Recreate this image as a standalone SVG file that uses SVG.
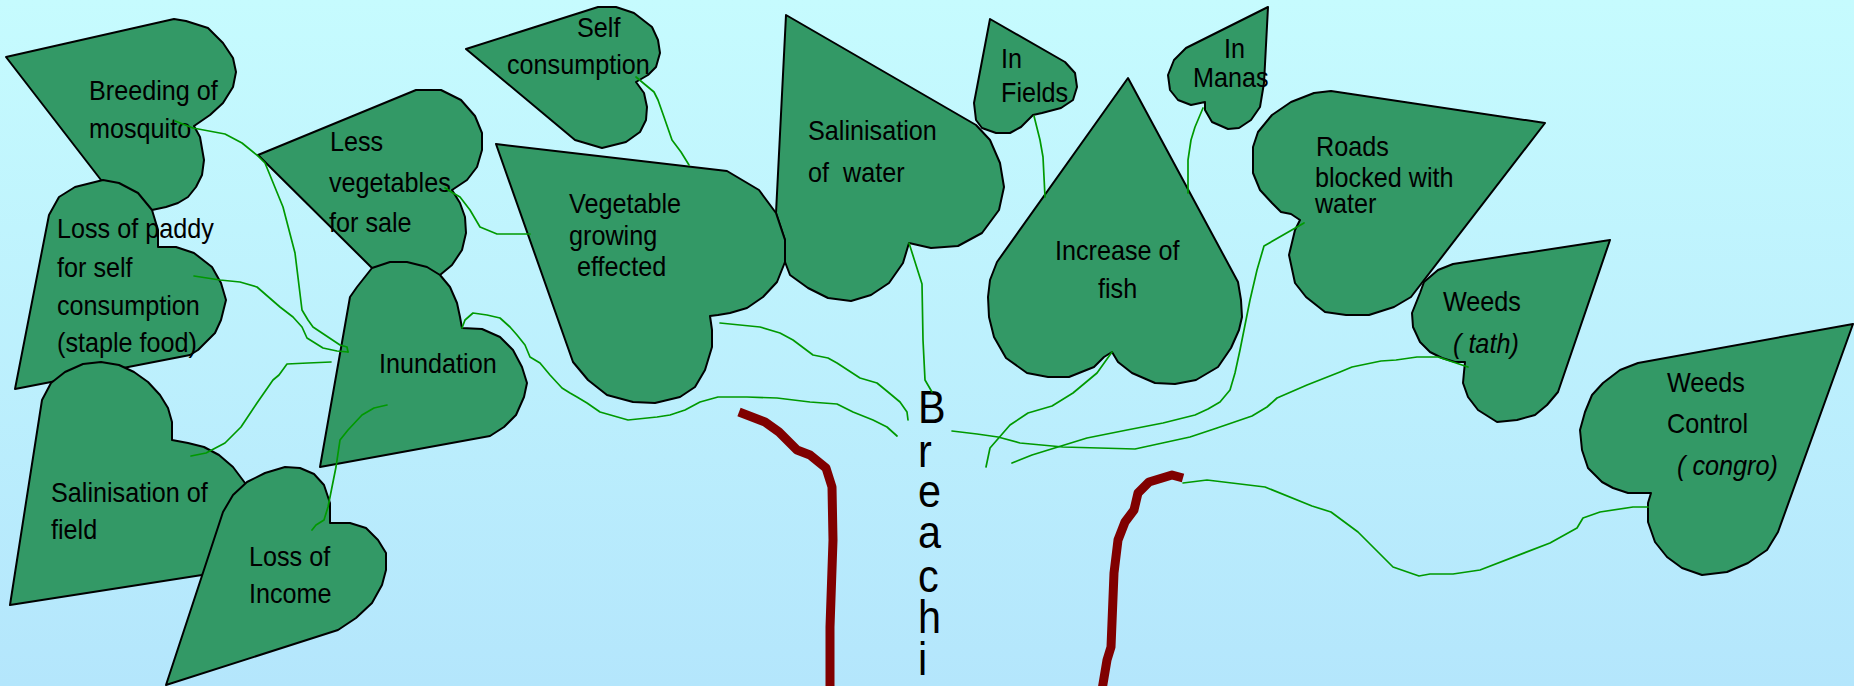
<svg xmlns="http://www.w3.org/2000/svg" width="1854" height="686" viewBox="0 0 1854 686">
<defs>
<linearGradient id="bg" x1="0" y1="0" x2="0" y2="1">
<stop offset="0" stop-color="#c6fbfe"/>
<stop offset="1" stop-color="#b4e6fc"/>
</linearGradient>
<style>
.leaf{fill:#339966;stroke:#000;stroke-width:2;stroke-linejoin:round}
.t{font-family:"Liberation Sans",Arial,sans-serif;font-size:28px;fill:#000;transform-box:fill-box;transform-origin:0 0;transform:scaleX(0.9)}
.it{font-style:italic}
.br{font-family:"Liberation Sans",Arial,sans-serif;font-size:47px;fill:#000;transform-box:fill-box;transform-origin:0 0;transform:scaleX(0.88)}
.c{fill:none;stroke:#009900;stroke-width:1.7;stroke-linejoin:round;stroke-linecap:round}
.bank{fill:none;stroke:#800000;stroke-width:9;stroke-linejoin:round}
</style>
</defs>
<rect x="0" y="0" width="1854" height="686" fill="url(#bg)"/>

<g id="breeding">
<polygon class="leaf" points="6,57 174,19 186,21 208,28 223,43 233,58 236,72 233,87 223,103 210,115 194,126 200,137 204,160 202,175 196,187 188,197 178,203 166,207 152,210 101,180"/>
<text class="t" x="89" y="100">Breeding of</text>
<text class="t" x="89" y="138">mosquito</text>
</g>
<g id="loss-paddy">
<polygon class="leaf" points="15,389 49,215 59,197 75,187 103,180 119,183 138,193 152,210 158,230 158,247 176,247 194,253 212,267 221,283 226,300 221,320 215,333 206,342 198,350 190,355"/>
<text class="t" x="57" y="238">Loss of paddy</text>
<text class="t" x="57" y="277">for self</text>
<text class="t" x="57" y="315">consumption</text>
<text class="t" x="57" y="352">(staple food)</text>
</g>
<g id="sal-field">
<polygon class="leaf" points="10,605 42,400 51,383 65,372 83,364 101,362 119,365 134,372 148,382 160,395 168,408 172,422 172,440 188,443 204,447 219,455 233,467 245,483 240,530 202,575"/>
<text class="t" x="51" y="502">Salinisation of</text>
<text class="t" x="51" y="539">field</text>
</g>
<g id="loss-income">
<polygon class="leaf" points="166,685 223,512 233,495 247,482 265,473 285,467 300,468 314,474 324,485 330,503 330,523 350,523 366,528 378,540 386,553 386,570 382,585 372,603 356,618 338,630"/>
<text class="t" x="249" y="566">Loss of</text>
<text class="t" x="249" y="603">Income</text>
</g>
<g id="less-veg">
<polygon class="leaf" points="258,155 416,90 441,90 461,100 475,116 482,133 482,150 477,167 467,180 452,190 460,203 465,217 466,233 462,250 452,265 440,275 410,285 372,268"/>
<text class="t" x="330" y="151">Less</text>
<text class="t" x="329" y="192">vegetables</text>
<text class="t" x="329" y="232">for sale</text>
</g>
<g id="inundation">
<polygon class="leaf" points="320,467 350,297 357,287 372,268 390,262 407,262 427,267 440,275 450,287 457,303 460,317 462,328 482,329 500,337 513,350 522,367 527,383 524,397 516,415 504,427 490,436"/>
<text class="t" x="379" y="373">Inundation</text>
</g>
<g id="self-cons">
<polygon class="leaf" points="466,49 598,7 616,7 634,13 652,27 658,40 660,53 656,67 648,75 636,82 644,93 647,107 646,120 640,132 626,142 602,148 575,140"/>
<text class="t" x="577" y="37">Self</text>
<text class="t" x="507" y="74">consumption</text>
</g>
<g id="sal-water">
<polygon class="leaf" points="786,15 976,125 990,140 1000,163 1004,187 999,210 982,233 958,246 931,248 909,243 903,263 889,283 871,295 851,301 828,298 808,288 790,275 785,262 785,240 776,213"/>
<text class="t" x="808" y="140">Salinisation</text>
<text class="t" x="808" y="182" xml:space="preserve" style="white-space:pre">of  water</text>
</g>
<g id="vegetable">
<polygon class="leaf" points="496,144 727,171 759,190 776,213 785,240 785,262 777,282 763,297 747,308 730,313 718,315 710,316 712,330 712,347 705,370 695,387 680,397 655,403 633,402 607,395 588,380 573,362"/>
<text class="t" x="569" y="213">Vegetable</text>
<text class="t" x="569" y="245">growing</text>
<text class="t" x="577" y="276">effected</text>
</g>
<g id="in-fields">
<polygon class="leaf" points="990,19 1065,62 1075,73 1077,87 1073,100 1061,108 1042,113 1033,115 1021,127 1010,133 996,133 982,128 976,120 974,103"/>
<text class="t" x="1001" y="68">In</text>
<text class="t" x="1001" y="102">Fields</text>
</g>
<g id="in-manas">
<polygon class="leaf" points="1268,7 1186,48 1174,60 1168,75 1170,90 1178,100 1191,105 1205,102 1205,110 1212,122 1228,129 1239,128 1251,120 1260,107 1264,83"/>
<text class="t" x="1224" y="58">In</text>
<text class="t" x="1193" y="87">Manas</text>
</g>
<g id="fish">
<polygon class="leaf" points="1128,78 1238,282 1241,300 1242,317 1239,330 1231,348 1218,367 1196,380 1175,384 1155,383 1132,373 1118,362 1112,352 1104,357 1094,367 1069,377 1048,377 1027,373 1006,358 994,337 989,317 988,297 990,280 997,262"/>
<text class="t" x="1055" y="260">Increase of</text>
<text class="t" x="1098" y="298">fish</text>
</g>
<g id="roads">
<polygon class="leaf" points="1545,123 1331,91 1314,93 1291,102 1272,115 1258,132 1253,147 1253,173 1260,190 1272,203 1281,212 1291,214 1300,220 1295,230 1289,255 1295,283 1306,297 1325,312 1346,315 1369,315 1394,307 1411,297"/>
<text class="t" x="1316" y="156">Roads</text>
<text class="t" x="1315" y="187">blocked with</text>
<text class="t" x="1315" y="213">water</text>
</g>
<g id="weeds-tath">
<polygon class="leaf" points="1610,240 1453,264 1438,270 1424,282 1420,293 1412,313 1413,327 1420,342 1430,352 1442,358 1455,362 1465,362 1464,372 1463,383 1468,397 1478,410 1497,422 1517,420 1535,415 1547,405 1558,392"/>
<text class="t" x="1443" y="311">Weeds</text>
<text class="t it" x="1453" y="353">( tath)</text>
</g>
<g id="weeds-control">
<polygon class="leaf" points="1853,324 1638,363 1620,370 1603,383 1592,395 1585,412 1580,430 1582,450 1588,468 1602,482 1613,488 1628,493 1651,493 1648,503 1648,522 1655,542 1667,557 1682,568 1702,575 1727,572 1748,563 1767,550 1778,532"/>
<text class="t" x="1667" y="392">Weeds</text>
<text class="t" x="1667" y="433">Control</text>
<text class="t it" x="1677" y="475">( congro)</text>
</g>

<g id="breach">
<polyline class="bank" points="739,412 765,422 779,432 797,450 810,455 826,468 832,487 833,540 830,627 830,690"/>
<polyline class="bank" points="1183,478 1172,475 1149,482 1138,493 1134,510 1125,522 1118,540 1114,573 1111,647 1107,660 1102,690"/>
<text class="br" x="918" y="423">B</text>
<text class="br" x="918" y="467">r</text>
<text class="br" x="918" y="507">e</text>
<text class="br" x="918" y="548">a</text>
<text class="br" x="918" y="592">c</text>
<text class="br" x="918" y="633">h</text>
<text class="br" x="918" y="675">i</text>
</g>

<g id="connectors">
<polyline class="c" points="175,121 193,128 225,134 242,143 258,156 265,163 283,207 295,253 302,310 308,320 313,327 340,345 347,347 348,352"/>
<polyline class="c" points="194,276 220,280 240,282 257,287 280,307 293,317 302,327 307,338 323,348 337,351 348,352"/>
<polyline class="c" points="191,456 206,453 225,443 241,427 257,403 273,380 279,375 287,364 308,363 331,362"/>
<polyline class="c" points="312,530 316,525 324,520 328,507 336,467 340,440 348,430 362,415 374,408 387,405"/>
<polyline class="c" points="445,188 453,193 460,197 470,210 480,227 497,234 530,234"/>
<polyline class="c" points="636,77 642,82 654,92 658,100 664,117 672,140 681,152 689,165"/>
<polyline class="c" points="462,328 465,320 473,313 487,315 500,318 510,327 517,335 525,345 530,357 540,363 550,375 562,388 570,393 577,397 587,403 600,412 628,420 657,417 670,415 685,410 700,402 718,397 747,397 777,398 810,402 837,404 853,412 873,420 887,427 897,436"/>
<polyline class="c" points="720,323 760,327 780,333 793,340 813,355 828,358 837,363 860,378 877,383 888,392 900,402 907,412 908,420"/>
<polyline class="c" points="909,243 922,284 923,340 925,380 932,392"/>
<polyline class="c" points="1034,116 1040,140 1043,157 1045,197"/>
<polyline class="c" points="1203,108 1195,127 1191,140 1188,160 1188,193"/>
<polyline class="c" points="1112,352 1097,373 1073,393 1052,406 1028,413 1010,425 990,448 986,467"/>
<polyline class="c" points="1304,223 1264,246 1257,270 1250,300 1244,330 1240,350 1235,373 1230,390 1220,402 1208,409 1195,415 1163,423 1127,430 1087,438 1032,455 1012,463"/>
<polyline class="c" points="1468,367 1438,357 1417,357 1396,360 1381,361 1352,367 1340,372 1307,385 1277,398 1267,407 1252,416 1217,428 1190,437 1135,449 1063,447 1020,443 998,437 977,434 952,431"/>
<polyline class="c" points="1648,507 1633,507 1600,512 1583,518 1577,528 1550,543 1480,570 1453,574 1430,574 1419,576 1393,567 1358,532 1331,512 1312,506 1265,487 1207,480 1183,483"/>
</g>
</svg>
